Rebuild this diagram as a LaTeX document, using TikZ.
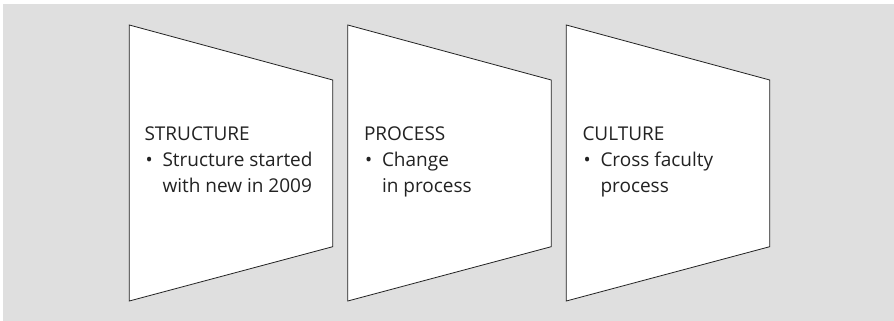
\documentclass[tikz,border=0pt]{standalone}
\usepackage{fontspec}
\setmainfont{Open Sans}
\definecolor{bggray}{HTML}{DFDFDF}
\definecolor{inkgray}{HTML}{222222}
\begin{document}
\begin{tikzpicture}[x=1pt,y=-1pt,
  panel/.style={draw=inkgray,fill=white,line width=0.8pt,line join=miter},
  txt/.style={anchor=base west,inner sep=0pt,outer sep=0pt,text=inkgray,font=\fontsize{19}{26}\selectfont}]
\useasboundingbox (0,0) rectangle (894,321);
\fill[white] (0,0) rectangle (894,321);
\fill[bggray] (3,4) rectangle (894,321);
% panels
\draw[panel] (129.3,25) -- (332.7,80) -- (332.7,246.7) -- (129.3,301) -- cycle;
\draw[panel] (347.8,25) -- (551.2,80) -- (551.2,246.7) -- (347.8,301) -- cycle;
\draw[panel] (566.3,25) -- (769.7,80) -- (769.7,246.7) -- (566.3,301) -- cycle;
% texts panel 1
\node[txt] (t1) at (144.5,140.7) {STRUCTURE};
\node[txt] (b1) at (145.5,166.7) {\textbullet};
\node[txt] (l1a) at (162.5,166.7) {Structure started};
\node[txt] (l1b) at (162.5,192.7) {with new in 2009};
% texts panel 2
\node[txt] (t2) at (364,140.7) {PROCESS};
\node[txt] (b2) at (365,166.7) {\textbullet};
\node[txt] (l2a) at (382,166.7) {Change};
\node[txt] (l2b) at (382,192.7) {in process};
% texts panel 3
\node[txt] (t3) at (582.5,140.7) {CULTURE};
\node[txt] (b3) at (583.5,166.7) {\textbullet};
\node[txt] (l3a) at (600.5,166.7) {Cross faculty};
\node[txt] (l3b) at (600.5,192.7) {process};
\end{tikzpicture}
\end{document}
